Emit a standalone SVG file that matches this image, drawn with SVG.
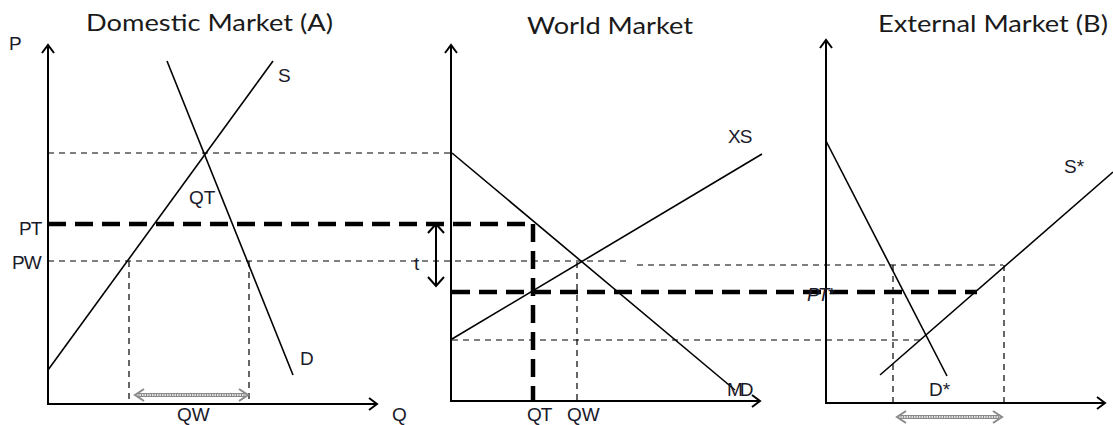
<svg xmlns="http://www.w3.org/2000/svg" width="1113" height="425" viewBox="0 0 1113 425">
<style>
.title{font-family:"Lato","Liberation Sans",sans-serif;font-size:24px;fill:#1a1a1a}
.lbl{font-family:"Liberation Sans",Arial,sans-serif;font-size:19px;fill:#1a1a2a}
.axis{stroke:#000;stroke-width:2;fill:none}
.curve{stroke:#000;stroke-width:1.6;fill:none}
.thin{stroke:#000;stroke-width:1.2;stroke-dasharray:6 5;fill:none}
.thick{stroke:#000;stroke-width:4.5;stroke-dasharray:18 9;fill:none}
.hollow-o{stroke:#8a8a8a;stroke-width:4;fill:none}
.hollow-i{stroke:#fff;stroke-width:1.6;stroke-dasharray:1.5 1;fill:none}
.head{stroke:#8a8a8a;stroke-width:2;fill:none}
</style>
<defs>
<marker id="arr" markerWidth="14" markerHeight="14" refX="10" refY="7" orient="auto" markerUnits="userSpaceOnUse">
<polyline points="2,1 10,7 2,13" fill="none" stroke="#000" stroke-width="2"/>
</marker>
</defs>

<g id="titles">
<text class="title" x="86" y="31" textLength="247" lengthAdjust="spacingAndGlyphs">Domestic Market (A)</text>
<text class="title" x="527" y="34" textLength="166" lengthAdjust="spacingAndGlyphs">World Market</text>
<text class="title" x="878" y="32" textLength="230" lengthAdjust="spacingAndGlyphs">External Market (B)</text>
</g>

<g id="connectors">
<line class="thin" x1="48" y1="153" x2="452" y2="153"/>
<line class="thin" x1="48" y1="261" x2="627" y2="261"/>
<line class="thin" x1="637" y1="265" x2="1003" y2="265"/>
<line class="thin" x1="129" y1="261" x2="129" y2="404"/>
<line class="thin" x1="249" y1="261" x2="249" y2="404"/>
<line class="thin" x1="577" y1="262" x2="577" y2="401"/>
<line class="thin" x1="452" y1="340" x2="925" y2="340"/>
<line class="thin" x1="893" y1="265" x2="893" y2="403"/>
<line class="thin" x1="1004" y1="265" x2="1004" y2="403"/>
<line class="thick" x1="48" y1="224" x2="533" y2="224"/>
<line class="thick" x1="533" y1="224" x2="533" y2="401"/>
<line class="thick" x1="452" y1="292" x2="977" y2="292"/>
</g>

<g id="panel-A">
<line class="axis" x1="48" y1="405" x2="48" y2="45" marker-end="url(#arr)"/>
<line class="axis" x1="48" y1="404" x2="377" y2="404" marker-end="url(#arr)"/>
<line class="curve" x1="48" y1="370" x2="273" y2="61"/>
<line class="curve" x1="167" y1="61" x2="293" y2="375"/>
<text class="lbl" x="9" y="50">P</text>
<text class="lbl" x="278" y="82">S</text>
<text class="lbl" x="189" y="204">QT</text>
<text class="lbl" x="19" y="235" letter-spacing="-1">PT</text>
<text class="lbl" x="12" y="269" letter-spacing="-1">PW</text>
<text class="lbl" x="300" y="365">D</text>
<text class="lbl" x="177" y="421">QW</text>
<text class="lbl" x="392" y="421">Q</text>
<g id="qw-arrow-A">
<line class="hollow-o" x1="137" y1="395" x2="246" y2="395"/>
<line class="hollow-i" x1="137" y1="395" x2="246" y2="395"/>
<polyline class="head" points="144,389 135,395 144,401"/>
<polyline class="head" points="239,389 248,395 239,401"/>
</g>
</g>

<g id="panel-World">
<line class="axis" x1="451" y1="402" x2="451" y2="45" marker-end="url(#arr)"/>
<line class="axis" x1="451" y1="401" x2="760" y2="401" marker-end="url(#arr)"/>
<line class="curve" x1="452" y1="153" x2="735" y2="390"/>
<line class="curve" x1="452" y1="339" x2="762" y2="154"/>
<text class="lbl" x="728" y="143" letter-spacing="-1">XS</text>
<text class="lbl" x="727" y="396" letter-spacing="-3">MD</text>
<text class="lbl" x="527" y="421" letter-spacing="-1">QT</text>
<text class="lbl" x="567" y="421">QW</text>
<text class="lbl" x="414" y="270">t</text>
<g id="t-arrow">
<line x1="436" y1="224" x2="436" y2="286" stroke="#000" stroke-width="2"/>
<polyline points="428,233 436,224 444,233" fill="none" stroke="#000" stroke-width="2"/>
<polyline points="428,277 436,286 444,277" fill="none" stroke="#000" stroke-width="2"/>
</g>
</g>

<g id="panel-B">
<line class="axis" x1="826" y1="404" x2="826" y2="40" marker-end="url(#arr)"/>
<line class="axis" x1="826" y1="403" x2="1105" y2="403" marker-end="url(#arr)"/>
<line class="curve" x1="826" y1="141" x2="947" y2="376"/>
<line class="curve" x1="880" y1="375" x2="1113" y2="172"/>
<text class="lbl" x="1064" y="173">S*</text>
<text class="lbl" x="929" y="396">D*</text>
<text class="lbl" x="807" y="301" font-style="italic" letter-spacing="-2">PT*</text>
<g id="qw-arrow-B">
<line class="hollow-o" x1="899" y1="417" x2="1000" y2="417"/>
<line class="hollow-i" x1="899" y1="417" x2="1000" y2="417"/>
<polyline class="head" points="906,411 897,417 906,423"/>
<polyline class="head" points="993,411 1002,417 993,423"/>
</g>
</g>
</svg>
